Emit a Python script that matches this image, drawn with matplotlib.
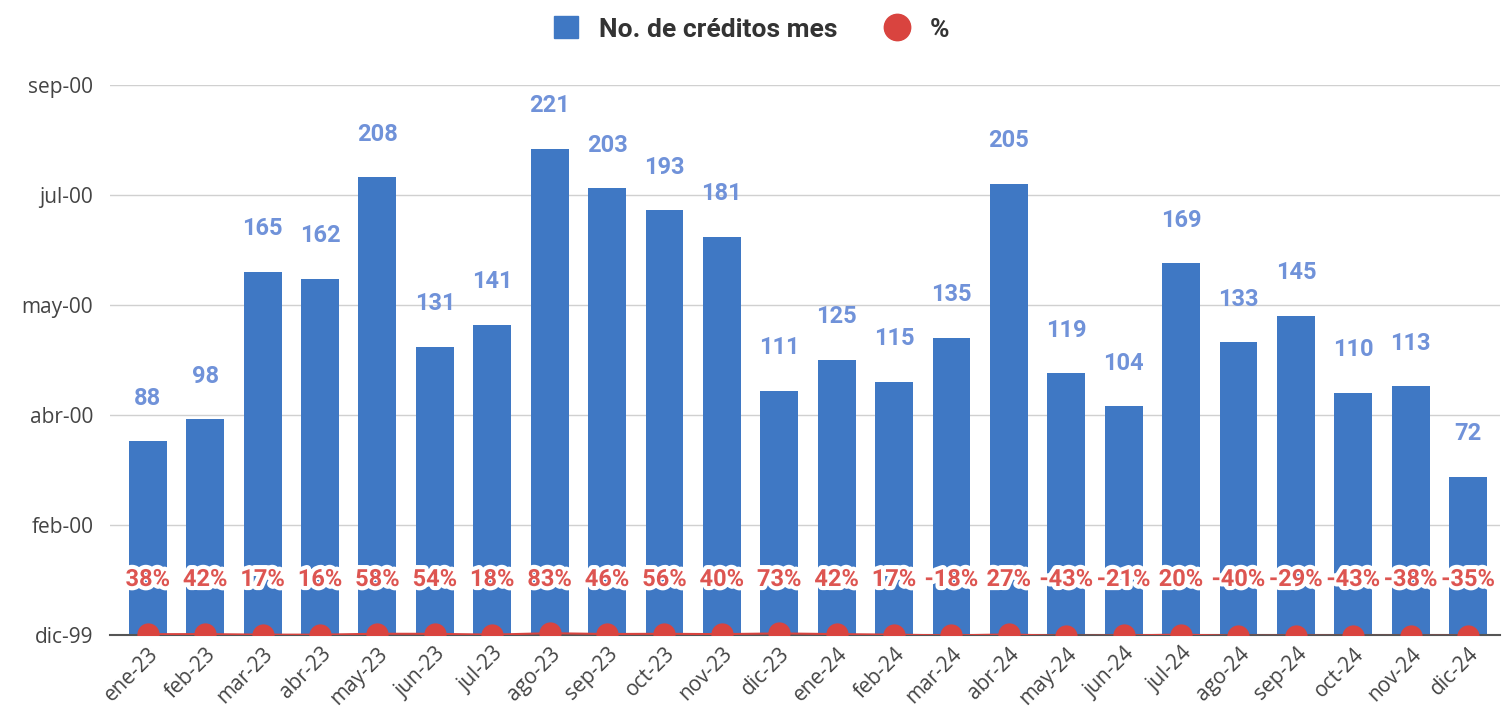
import datetime
import matplotlib
matplotlib.use("Agg")
import matplotlib.pyplot as plt
import matplotlib.patheffects as pe
from matplotlib.ticker import FuncFormatter, MultipleLocator
from matplotlib.lines import Line2D
from matplotlib.patches import Patch

plt.rcParams["font.family"] = ["Roboto", "DejaVu Sans"]

months = ["ene-23", "feb-23", "mar-23", "abr-23", "may-23", "jun-23", "jul-23",
          "ago-23", "sep-23", "oct-23", "nov-23", "dic-23", "ene-24", "feb-24",
          "mar-24", "abr-24", "may-24", "jun-24", "jul-24", "ago-24", "sep-24",
          "oct-24", "nov-24", "dic-24"]
creditos = [88, 98, 165, 162, 208, 131, 141, 221, 203, 193, 181, 111,
            125, 115, 135, 205, 119, 104, 169, 133, 145, 110, 113, 72]
pct = [0.38, 0.42, 0.17, 0.16, 0.58, 0.54, 0.18, 0.83, 0.46, 0.56, 0.40, 0.73,
       0.42, 0.17, -0.18, 0.27, -0.43, -0.21, 0.20, -0.40, -0.29, -0.43, -0.38, -0.35]

BLUE = "#3f78c4"
LABEL_BLUE = "#7092d9"
RED = "#d9443f"
PCT_RED = "#dd5551"
MESES = ["ene", "feb", "mar", "abr", "may", "jun", "jul", "ago", "sep", "oct", "nov", "dic"]


# the sheet had the axis formatted as a date, so serial numbers show as dates
def as_date(v, pos):
    d = datetime.datetime(1899, 12, 30) + datetime.timedelta(days=v)
    return f"{MESES[d.month - 1]}-{d.year % 100:02d}"


fig = plt.figure(figsize=(15.04, 7.25), dpi=100)
ax = fig.add_axes([0.0731, 0.1241, 0.924, 0.7587])

x = list(range(len(months)))
ax.bar(x, creditos, width=0.66, color=BLUE, zorder=2)
for xi, v in zip(x, creditos):
    ax.annotate(str(v), (xi, v), xytext=(0, 31), textcoords="offset points",
                ha="center", va="center", fontsize=17, fontweight="bold",
                color=LABEL_BLUE)

ax.plot(x, pct, color=RED, linewidth=1.5, marker="o", markersize=15,
        zorder=4, clip_on=True)
for xi, p in zip(x, pct):
    ax.annotate(f"{round(p * 100)}%", (xi, 0), xytext=(0, 40),
                textcoords="offset points", ha="center", va="center",
                fontsize=17, fontweight="bold", color=PCT_RED, zorder=5,
                annotation_clip=False,
                path_effects=[pe.withStroke(linewidth=6, foreground="white")])

ax.set_ylim(0, 250)
ax.set_xlim(-0.66, 23.55)
ax.yaxis.set_major_locator(MultipleLocator(50))
ax.yaxis.set_major_formatter(FuncFormatter(as_date))
ax.grid(axis="y", color="#d0d0d0", linewidth=1, zorder=0)
ax.set_axisbelow(True)
for s in ["top", "right", "left"]:
    ax.spines[s].set_visible(False)
ax.spines["bottom"].set_color("#555555")
ax.spines["bottom"].set_linewidth(1.5)
ax.tick_params(axis="both", length=0, labelsize=15, colors="#444444")
ax.tick_params(axis="y", pad=12)
ax.tick_params(axis="x", pad=6)
ax.set_xticks(x)
ax.set_xticklabels(months, rotation=45, ha="right", rotation_mode="anchor",
                   family=["Open Sans", "DejaVu Sans"])
for t in ax.get_yticklabels():
    t.set_family(["Open Sans", "DejaVu Sans"])

handles = [Patch(color=BLUE),
           Line2D([], [], color=RED, marker="o", linestyle="", markersize=19)]
leg = fig.legend(handles, ["No. de créditos mes", "%"], loc="upper center",
                 bbox_to_anchor=(0.5, 1.01), ncol=2, frameon=False,
                 prop={"weight": "bold", "size": 19}, handlelength=0.9,
                 handleheight=0.9, handletextpad=0.8, columnspacing=1.8)
for t in leg.get_texts():
    t.set_color("#333333")

fig.savefig("out.png", dpi=100)
